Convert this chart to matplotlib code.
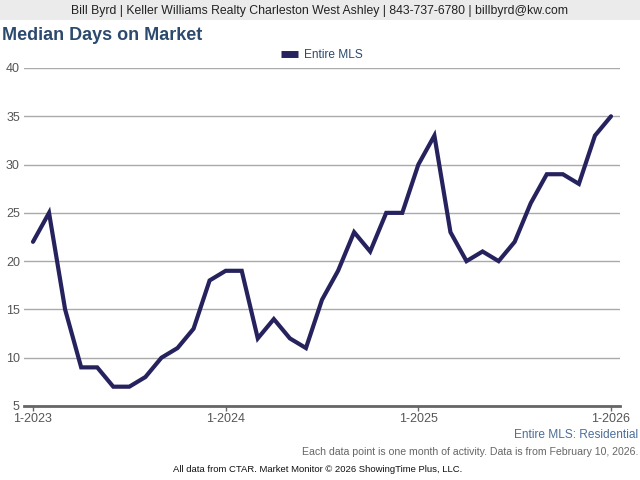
import matplotlib.pyplot as plt
import numpy as np
from matplotlib.lines import Line2D

plt.rcParams['font.family'] = ['Liberation Sans', 'DejaVu Sans']

# monthly median days on market, 1-2023 .. 1-2026
days = [22, 25, 15, 9, 9, 7, 7, 8, 10, 11, 13, 18,
        19, 19, 12, 14, 12, 11, 16, 19, 23, 21, 25, 25,
        30, 33, 23, 20, 21, 20, 22, 26, 29, 29, 28, 33,
        35]
tick_pos = [0, 12, 24, 36]
tick_labels = ['1-2023', '1-2024', '1-2025', '1-2026']
yticks = [5, 10, 15, 20, 25, 30, 35, 40]

fig = plt.figure(figsize=(6.4, 4.8), dpi=100)

# header band
fig.patches.append(plt.Rectangle((0, 1 - 20 / 480), 1, 20 / 480, transform=fig.transFigure,
                                 facecolor='#ebebeb', edgecolor='none', zorder=0))
fig.text(0.5, 1 - 11 / 480, 'Bill Byrd | Keller Williams Realty Charleston West Ashley | 843-737-6780 | billbyrd@kw.com',
         ha='center', va='center', fontsize=8.8, color='#222222')
fig.text(0.003, 1 - 35 / 480, 'Median Days on Market', ha='left', va='center',
         fontsize=13, fontweight='bold', color='#2c4a6e')

ax = fig.add_axes([24 / 640, 1 - 406 / 480, 596 / 640, 338 / 480])
x = np.arange(len(days))
ax.plot(x, days, color='#25225e', linewidth=3, solid_joinstyle='miter',
        solid_capstyle='round', zorder=3)

ax.set_xlim(-0.56, 36.56)
ax.set_ylim(5, 40)
ax.set_yticks(yticks)
ax.set_xticks(tick_pos)
ax.set_xticklabels(tick_labels)
ax.grid(axis='y', color='#aaaaaa', linewidth=1)
ax.set_axisbelow(True)
for s in ['top', 'right', 'left']:
    ax.spines[s].set_visible(False)
ax.spines['bottom'].set_color('#666666')
ax.spines['bottom'].set_linewidth(2)
ax.tick_params(axis='y', length=0, labelsize=9, labelcolor='#555555', pad=3)
ax.tick_params(axis='x', length=3.6, width=1, color='#666666', labelsize=9,
               labelcolor='#555555', pad=1.5)

handle = Line2D([], [], color='#25225e', linewidth=5, solid_capstyle='butt')
leg = ax.legend([handle], ['Entire MLS'], loc='lower center', bbox_to_anchor=(0.5, 1.0),
                frameon=False, fontsize=8.6, handlelength=1.4, handletextpad=0.5,
                borderaxespad=0.15)
for t in leg.get_texts():
    t.set_color('#2c4a6e')

fig.text(1 - 2 / 640, 1 - 435 / 480, 'Entire MLS: Residential', ha='right', va='center',
         fontsize=8.6, color='#4a6f9a')
fig.text(1 - 2 / 640, 1 - 452 / 480,
         'Each data point is one month of activity. Data is from February 10, 2026.',
         ha='right', va='center', fontsize=7.6, color='#666666')
fig.text(0.497, 1 - 469 / 480, 'All data from CTAR. Market Monitor \u00a9 2026 ShowingTime Plus, LLC.',
         ha='center', va='center', fontsize=6.8, color='#111111')

fig.savefig('out.png', dpi=100)
